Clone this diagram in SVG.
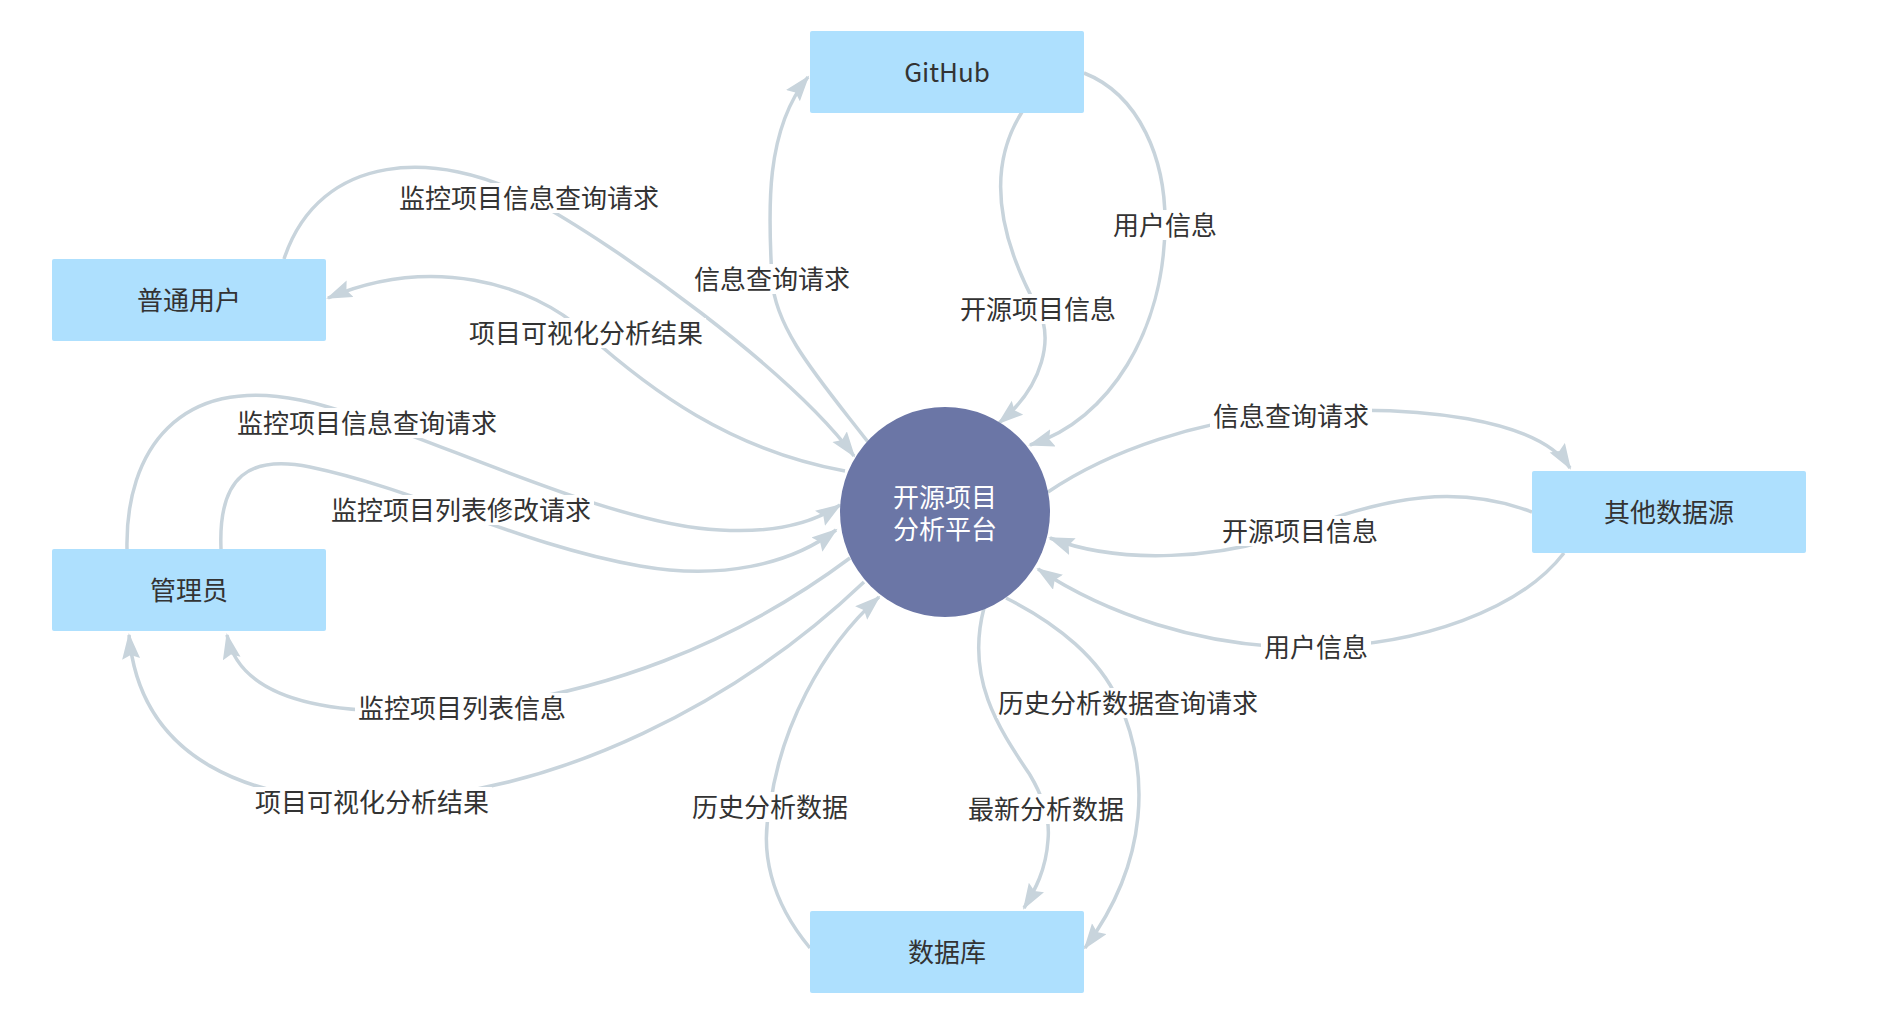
<svg xmlns="http://www.w3.org/2000/svg" width="1894" height="1035" viewBox="0 0 1894 1035">
<style>
.edge{fill:none;stroke:#c8d4dc;stroke-width:3.5;marker-end:url(#arr)}
.lbg{fill:#ffffff}
.lt{font-family:"Noto Sans CJK SC","Noto Sans",sans-serif;font-size:26px;fill:#333333;text-anchor:middle;dominant-baseline:central}
.box{fill:#aee0fe}
.nt{font-family:"Noto Sans CJK SC","Noto Sans",sans-serif;font-size:26px;fill:#333333;text-anchor:middle;dominant-baseline:central}
.ct{font-family:"Noto Sans CJK SC","Noto Sans",sans-serif;font-size:26px;fill:#ffffff;text-anchor:middle;dominant-baseline:central}
</style>
<defs>
<marker id="arr" markerUnits="userSpaceOnUse" markerWidth="28" markerHeight="20" refX="24" refY="9" orient="auto">
<path d="M0,0 L26,9 L0,18 L4,9 z" fill="#c8d4dc"/>
</marker>
</defs>
<rect width="1894" height="1035" fill="#ffffff"/>
<g id="connectors">
<path class="edge" d="M284,259 C320,150 440,150 529,198 S790,370 854,456"/>
<path class="edge" d="M845,471 C730,450 650,390 586,333 C530,282 430,255 328,298"/>
<path class="edge" d="M127,549 C125,450 180,375 300,400 C400,420 600,525 720,530 C770,533 810,525 840,505"/>
<path class="edge" d="M221,549 C218,475 250,455 310,467 C420,490 520,545 640,566 C720,580 790,565 836,530"/>
<path class="edge" d="M850,558 C740,640 600,700 440,710 C330,716 240,700 227,635"/>
<path class="edge" d="M864,582 C740,700 560,795 380,800 C250,804 140,760 129,635"/>
<path class="edge" d="M868,442 C820,380 775,330 772,279 C768,210 765,130 808,77"/>
<path class="edge" d="M1022,112 C985,170 1000,240 1038,309 C1053,337 1045,385 999,423"/>
<path class="edge" d="M1084,73 C1140,95 1166,160 1165,225 C1164,330 1110,420 1030,445"/>
<path class="edge" d="M1048,492 C1110,450 1200,420 1291,413 C1420,403 1540,420 1570,468"/>
<path class="edge" d="M1532,512 C1460,485 1390,495 1300,530 C1220,560 1120,565 1050,538"/>
<path class="edge" d="M1564,553 C1520,610 1420,645 1316,647 C1200,650 1100,610 1038,569"/>
<path class="edge" d="M810,948 C770,900 760,850 770,807 C780,730 820,650 879,597"/>
<path class="edge" d="M984,608 C965,680 1000,730 1030,775 C1045,800 1050,820 1048,840 C1046,870 1035,890 1024,908"/>
<path class="edge" d="M1006,598 C1060,625 1100,660 1118,700 C1150,770 1150,860 1085,948"/>
<g id="labels">
<rect class="lbg" x="396" y="183" width="266" height="30"/><text class="lt" x="529" y="196">监控项目信息查询请求</text>
<rect class="lbg" x="466" y="318" width="240" height="30"/><text class="lt" x="586" y="331">项目可视化分析结果</text>
<rect class="lbg" x="234" y="408" width="266" height="30"/><text class="lt" x="367" y="421">监控项目信息查询请求</text>
<rect class="lbg" x="328" y="495" width="266" height="30"/><text class="lt" x="461" y="508">监控项目列表修改请求</text>
<rect class="lbg" x="355" y="693" width="214" height="30"/><text class="lt" x="462" y="706">监控项目列表信息</text>
<rect class="lbg" x="252" y="787" width="240" height="30"/><text class="lt" x="372" y="800">项目可视化分析结果</text>
<rect class="lbg" x="691" y="264" width="162" height="30"/><text class="lt" x="772" y="277">信息查询请求</text>
<rect class="lbg" x="957" y="294" width="162" height="30"/><text class="lt" x="1038" y="307">开源项目信息</text>
<rect class="lbg" x="1110" y="210" width="110" height="30"/><text class="lt" x="1165" y="223">用户信息</text>
<rect class="lbg" x="1210" y="401" width="162" height="30"/><text class="lt" x="1291" y="414">信息查询请求</text>
<rect class="lbg" x="1219" y="516" width="162" height="30"/><text class="lt" x="1300" y="529">开源项目信息</text>
<rect class="lbg" x="1261" y="632" width="110" height="30"/><text class="lt" x="1316" y="645">用户信息</text>
<rect class="lbg" x="689" y="792" width="162" height="30"/><text class="lt" x="770" y="805">历史分析数据</text>
<rect class="lbg" x="965" y="794" width="162" height="30"/><text class="lt" x="1046" y="807">最新分析数据</text>
<rect class="lbg" x="997" y="688" width="262" height="30"/><text class="lt" x="1128" y="701">历史分析数据查询请求</text>
</g>
</g>
<g id="node-github"><rect class="box" x="810" y="31" width="274" height="82" rx="2"/><text class="nt" x="947" y="70">GitHub</text></g>
<g id="node-user"><rect class="box" x="52" y="259" width="274" height="82" rx="2"/><text class="nt" x="189" y="298">普通用户</text></g>
<g id="node-admin"><rect class="box" x="52" y="549" width="274" height="82" rx="2"/><text class="nt" x="189" y="588">管理员</text></g>
<g id="node-other"><rect class="box" x="1532" y="471" width="274" height="82" rx="2"/><text class="nt" x="1669" y="510">其他数据源</text></g>
<g id="node-db"><rect class="box" x="810" y="911" width="274" height="82" rx="2"/><text class="nt" x="947" y="950">数据库</text></g>
<g id="node-platform"><circle cx="945" cy="512" r="105" fill="#6b76a6"/><text class="ct" x="945" y="495">开源项目<tspan x="945" y="527">分析平台</tspan></text></g>
</svg>
